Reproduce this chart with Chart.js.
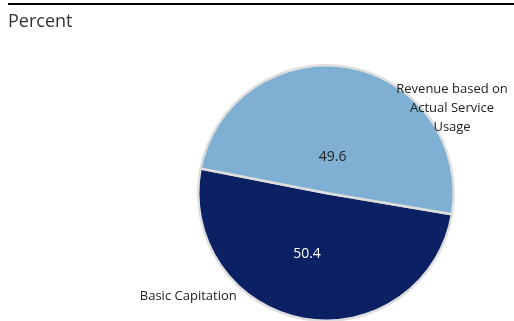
<!DOCTYPE html>
<html>
<head>
<meta charset="utf-8">
<script src="https://cdn.jsdelivr.net/npm/chart.js@4/dist/chart.umd.min.js"></script>
<style>
  html, body { margin: 0; padding: 0; background: #fff; }
  #wrap { position: relative; width: 514px; height: 321px; overflow: hidden; }
  #rule { position: absolute; left: 8px; right: 0; top: 3px; height: 2px; background: #000; }
  #title { position: absolute; left: 8px; top: 8px; font: 18px "Open Sans", sans-serif; color: #333; }
  #box { position: absolute; left: 0; top: 0; width: 514px; height: 330px; }
</style>
</head>
<body>
<div id="wrap">
  <div id="box"><canvas id="pieChart"></canvas></div>
  <div id="rule"></div>
  <div id="title">Percent</div>
</div>
<script>
// Reparto del pago: capitación básica frente a ingresos por uso real
const labels = ['Basic Capitation', 'Revenue based on Actual Service Usage'];
const values = [50.4, 49.6];
const nameLines = [['Basic Capitation'], ['Revenue based on', 'Actual Service', 'Usage']];

const COLORS = {
  navy: '#0b2163',
  lightBlue: '#7fb0d3',
  edge: '#dedede'
};

// posiciones de las etiquetas respecto al centro del sector (ángulo en grados, factor del radio)
const valuePos = [{ frac: 0.5, dAng: 7 }, { frac: 0.29, dAng: 0 }];
const namePos = [{ ang: 143, frac: 1.35 }, { ang: -34, frac: 1.19 }];

const sliceLabels = {
  id: 'sliceLabels',
  afterDatasetsDraw(chart) {
    const ctx = chart.ctx;
    const meta = chart.getDatasetMeta(0);
    ctx.save();
    ctx.textAlign = 'center';
    ctx.textBaseline = 'middle';
    meta.data.forEach((arc, i) => {
      const p = arc.getProps(['x', 'y', 'startAngle', 'endAngle', 'outerRadius'], true);
      const mid = (p.startAngle + p.endAngle) / 2 + valuePos[i].dAng * Math.PI / 180;
      const r = p.outerRadius * valuePos[i].frac;
      ctx.font = '14px "Open Sans", sans-serif';
      ctx.fillStyle = i === 0 ? '#ffffff' : '#222222';
      ctx.fillText(values[i].toFixed(1), p.x + Math.cos(mid) * r, p.y + Math.sin(mid) * r);

      const a = namePos[i].ang * Math.PI / 180;
      const rr = p.outerRadius * namePos[i].frac;
      const cx = p.x + Math.cos(a) * rr;
      const cy = p.y + Math.sin(a) * rr;
      const lines = nameLines[i];
      const lh = 19;
      ctx.font = '13px "Open Sans", sans-serif';
      ctx.fillStyle = '#222222';
      lines.forEach((t, k) => {
        ctx.fillText(t, cx, cy + (k - (lines.length - 1) / 2) * lh);
      });
    });
    ctx.restore();
  }
};

const data = {
  labels: labels,
  datasets: [{
    data: values,
    backgroundColor: [COLORS.navy, COLORS.lightBlue],
    borderColor: COLORS.edge,
    borderWidth: 2.5
  }]
};

const config = {
  type: 'pie',
  data: data,
  options: {
    responsive: true,
    maintainAspectRatio: false,
    animation: false,
    rotation: 99.6,
    layout: { padding: { top: 64, bottom: 8, left: 197, right: 59 } },
    plugins: {
      legend: { display: false },
      tooltip: { enabled: false }
    }
  },
  plugins: [sliceLabels]
};

const pieChart = new Chart(document.getElementById('pieChart'), config);
</script>
</body>
</html>
